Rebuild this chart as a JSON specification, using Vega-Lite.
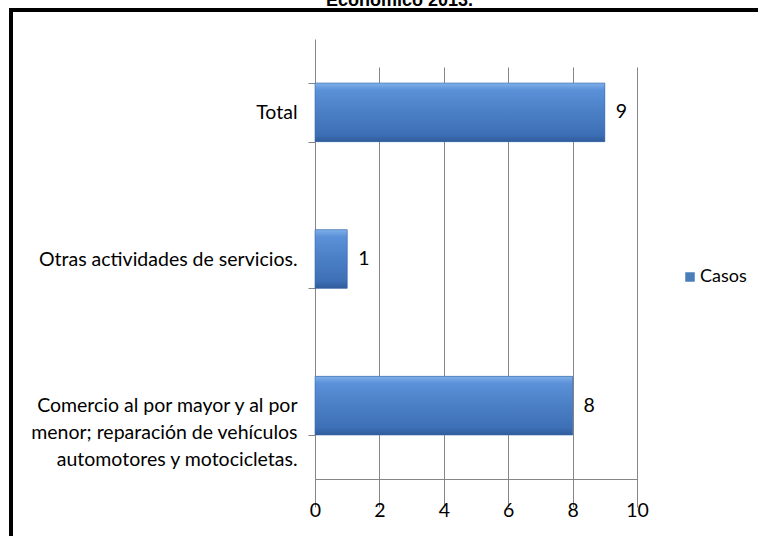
{
  "$schema": "https://vega.github.io/schema/vega-lite/v6.json",
  "autosize": {"type": "none"},
  "padding": {"left": 11, "top": 10, "right": 0, "bottom": 0},
  "width": 747,
  "height": 526,
  "background": "white",
  "title": {
    "text": "Económico 2013.",
    "font": "Liberation Sans",
    "fontSize": 18,
    "fontWeight": "bold",
    "color": "black",
    "anchor": "middle",
    "frame": "group",
    "dx": 15,
    "offset": -10
  },
  "config": {
    "font": "Lato",
    "view": {"stroke": "black", "strokeWidth": 4, "strokeDash": [747, 1273, 526]}
  },
  "data": {
    "values": [
      {"categoria": "Total", "casos": 9, "serie": "Casos"},
      {"categoria": "Otras actividades de servicios.", "casos": 1, "serie": "Casos"},
      {"categoria": "Comercio al por mayor y al por|menor; reparación de vehículos|automotores y motocicletas.", "casos": 8, "serie": "Casos"}
    ]
  },
  "encoding": {
    "y": {
      "field": "categoria",
      "type": "nominal",
      "sort": null,
      "scale": {"range": [29, 469], "paddingInner": 0.6, "paddingOuter": 0.3},
      "axis": {
        "title": null,
        "offset": -304,
        "grid": false,
        "domainColor": "#868686",
        "tickColor": "#868686",
        "tickSize": 7,
        "tickBand": "extent",
        "labelPadding": 11,
        "labelFont": "Lato",
        "labelFontSize": 19.5,
        "labelColor": "black",
        "labelLimit": 0,
        "labelLineHeight": 27,
        "labelExpr": "split(datum.label, '|')"
      }
    },
    "x": {
      "field": "casos",
      "type": "quantitative",
      "scale": {"domain": [0, 10], "range": [304, 626], "nice": false},
      "axis": {
        "title": null,
        "orient": "bottom",
        "offset": -57,
        "values": [0, 2, 4, 6, 8, 10],
        "grid": true,
        "gridColor": "#868686",
        "domainColor": "#868686",
        "tickColor": "#868686",
        "tickSize": 8,
        "labelFlush": false,
        "labelPadding": 14,
        "labelFont": "Lato",
        "labelFontSize": 19.5,
        "labelColor": "black"
      }
    }
  },
  "layer": [
    {
      "mark": {"type": "bar"},
      "encoding": {
        "color": {
          "field": "serie",
          "type": "nominal",
          "scale": {"range": ["#4a7ebb"]},
          "legend": {
            "title": null,
            "orient": "none",
            "legendX": 670,
            "legendY": 258,
            "padding": 0,
            "symbolType": "square",
            "symbolSize": 90,
            "symbolStrokeWidth": 0,
            "labelOffset": 1,
            "labelFont": "Lato",
            "labelFontSize": 18,
            "labelColor": "black"
          }
        }
      }
    },
    {
      "mark": {
        "type": "bar",
        "stroke": "#3a6aa8",
        "strokeWidth": 0.6,
        "fill": {
          "gradient": "linear",
          "x1": 0, "y1": 0, "x2": 0, "y2": 1,
          "stops": [
            {"offset": 0, "color": "#7fb0ea"},
            {"offset": 0.12, "color": "#5b91d8"},
            {"offset": 0.5, "color": "#4a7fc6"},
            {"offset": 0.88, "color": "#3d6fb6"},
            {"offset": 1, "color": "#2f5b9a"}
          ]
        }
      },
      "encoding": {}
    },
    {
      "mark": {"type": "text", "align": "left", "baseline": "middle", "dx": 11, "font": "Lato", "fontSize": 19.5, "color": "black"},
      "encoding": {"text": {"field": "casos", "type": "quantitative"}}
    }
  ]
}
